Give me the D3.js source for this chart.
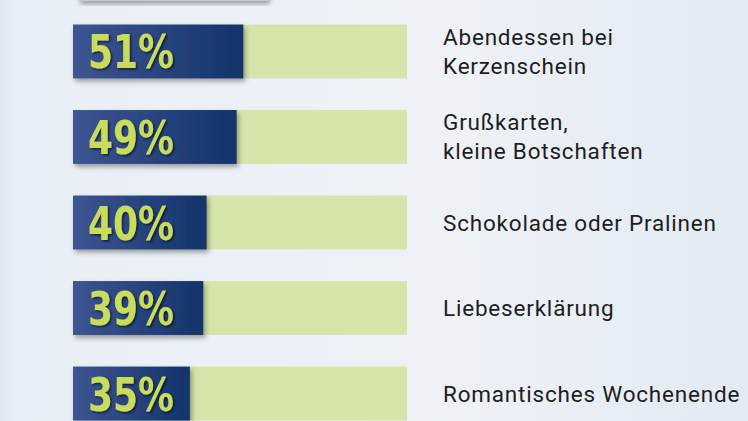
<!DOCTYPE html><html><head><meta charset="utf-8"><script src="https://cdn.jsdelivr.net/npm/d3@7"></script>
<style>body{margin:0;overflow:hidden}</style></head><body><script>
const categories=[["Abendessen bei","Kerzenschein"],["Grußkarten,","kleine Botschaften"],["Schokolade oder Pralinen"],["Liebeserklärung"],["Romantisches Wochenende"]];
const values=[51,49,40,39,35];
const labels=["51%","49%","40%","39%","35%"];
const W=748,H=421;
const svg=d3.select("body").append("svg").attr("width",W).attr("height",H);
const defs=svg.append("defs");
const bg=defs.append("linearGradient").attr("id","bg");
bg.append("stop").attr("offset","0").attr("stop-color","#dfe7f1");
bg.append("stop").attr("offset","0.02").attr("stop-color","#e9eff6");
bg.append("stop").attr("offset","0.6").attr("stop-color","#eef2f7");
bg.append("stop").attr("offset","1").attr("stop-color","#e3eaf3");
const bl=defs.append("linearGradient").attr("id","bl");
bl.append("stop").attr("offset","0").attr("stop-color","#3d5592");
bl.append("stop").attr("offset","1").attr("stop-color","#13336a");
const f=defs.append("filter").attr("id","sh").attr("x","-10%").attr("y","-20%").attr("width","130%").attr("height","160%");
f.append("feDropShadow").attr("dx",2).attr("dy",3).attr("stdDeviation",2.5).attr("flood-color","#000").attr("flood-opacity",0.35);
const ts=defs.append("filter").attr("id","ts");
ts.append("feDropShadow").attr("dx",1.5).attr("dy",1.5).attr("stdDeviation",1).attr("flood-color","#000").attr("flood-opacity",0.6);
svg.append("rect").attr("width",W).attr("height",H).attr("fill","url(#bg)");
svg.append("rect").attr("x",78).attr("y",-10).attr("width",190).attr("height",11).attr("fill","#c4cad5").attr("filter","url(#sh)");
const x=d3.scaleLinear().domain([0,100]).range([73,407]);
const y=d3.scaleBand().domain(d3.range(values.length)).range([10,435]).paddingInner(0.37).paddingOuter(0.17);
const g=svg.selectAll("g.r").data(values).join("g");
g.append("rect").attr("x",x(0)).attr("y",(d,i)=>y(i)).attr("width",x(100)-x(0)).attr("height",y.bandwidth()).attr("fill","#d6e5aa");
g.append("rect").attr("x",x(0)).attr("y",(d,i)=>y(i)).attr("width",d=>x(d)-x(0)).attr("height",y.bandwidth()).attr("fill","url(#bl)").attr("filter","url(#sh)");
g.append("text").attr("x",88).attr("y",(d,i)=>y(i)+y.bandwidth()/2+17).text((d,i)=>labels[i])
 .attr("font-family","DejaVu Sans Condensed, Roboto").attr("font-weight","bold").attr("font-size",46)
 .attr("textLength",86).attr("lengthAdjust","spacingAndGlyphs").attr("fill","#c9dc5c").attr("filter","url(#ts)");
g.each(function(d,i){const lines=categories[i];const cy=y(i)+y.bandwidth()/2;
 const t=d3.select(this).append("text").attr("font-family","Roboto, sans-serif").attr("font-size",22.5).attr("letter-spacing",0.8).attr("fill","#1e1e1e");
 lines.forEach((l,k)=>t.append("tspan").attr("x",443).attr("y",cy+8+(k-(lines.length-1)/2)*29).text(l));});
</script></body></html>
